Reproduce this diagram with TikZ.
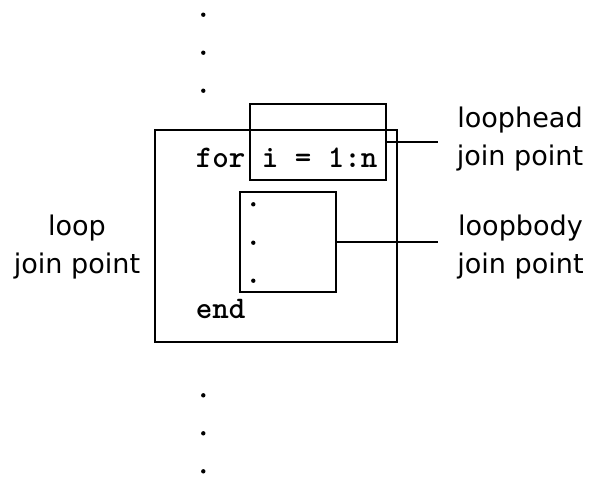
\documentclass[tikz,border=0pt]{standalone}
\usepackage{fontspec}
\setmainfont{DejaVu Sans}
\usetikzlibrary{positioning}

\begin{document}
\begin{tikzpicture}[
  x=0.02cm,y=-0.02cm,
  box/.style={draw,line width=1.15pt,inner sep=0pt},
  code/.style={font=\ttfamily\bfseries\fontsize{17.9pt}{22pt}\selectfont,
               inner sep=0pt,anchor=base west},
  lbl/.style={font=\fontsize{15.4pt}{21.5pt}\selectfont,align=center,inner sep=0pt},
  conn/.style={line width=1.15pt},
  dot/.style={radius=1.25pt}
]
\useasboundingbox (0,0) rectangle (592,477);
% the loop and its two inner regions
\node[box,minimum width=242*0.02cm,minimum height=212*0.02cm] (loopbox) at (276,236) {};
\node[box,minimum width=136*0.02cm,minimum height=76*0.02cm] (headbox) at (318,142) {};
\node[box,minimum width=96*0.02cm,minimum height=100*0.02cm] (bodybox) at (288,242) {};
\node[code] (forline) at (195.5,167) {for i = 1:n};
\node[code] (endline) at (195.5,318) {end};
% statements before, inside and after the loop
\foreach \y in {14.7,52.7,90.7,395.3,433.3,471.3}
  \fill (203.3,\y) circle[dot];
\foreach \y in {204.3,242.7,280.7}
  \fill (253.3,\y) circle[dot];
% join points
\coordinate (headjoin) at (438,142);
\coordinate (bodyjoin) at (438,242);
\draw[conn] (headbox.east) -- (headjoin);
\draw[conn] (bodybox.east) -- (bodyjoin);
\node[lbl] (headlbl) at (520,139) {loophead\\join point};
\node[lbl] (bodylbl) at (520.5,247) {loopbody\\join point};
\node[lbl] (looplbl) at (77,247) {loop\\join point};
\end{tikzpicture}
\end{document}
